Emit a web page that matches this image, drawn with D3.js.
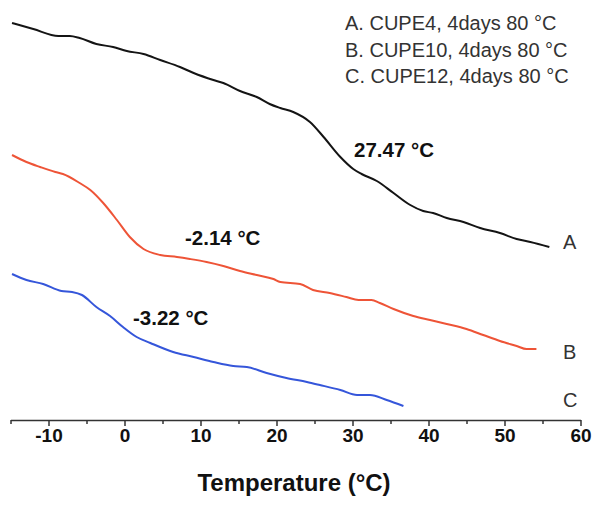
<!DOCTYPE html>
<html lang="en">
  <head>
    <meta charset="UTF-8" />
    <script src="https://d3js.org/d3.v7.min.js"></script>
    <title>DSC curves</title>
    <style>
      body {
        margin: 0;
        background: white;
      }
      text {
        font-family: "Liberation Sans", Arial, sans-serif;
      }
    </style>
  </head>
  <body>
    <script>
      /*------------------- data --------------------*/
      // [temperature (°C), heat flow (a.u.)]
      const curveA = [
        [-14.8, 3.97], [-12.0, 3.91], [-8.7, 3.84], [-7.2, 3.84], [-5.9, 3.82],
        [-3.7, 3.76], [-1.5, 3.73], [0.3, 3.69], [2.5, 3.66], [4.7, 3.6],
        [7.3, 3.53], [9.1, 3.47], [11.7, 3.4], [13.0, 3.37], [15.2, 3.29],
        [17.4, 3.23], [19.1, 3.16], [20.5, 3.12], [22.2, 3.08], [24.4, 2.98],
        [26.2, 2.83], [28.4, 2.63], [30.1, 2.51], [31.2, 2.46], [33.2, 2.39],
        [35.4, 2.27], [37.6, 2.15], [39.3, 2.09], [40.6, 2.07], [42.4, 2.02],
        [44.6, 1.98], [46.8, 1.92], [49.4, 1.87], [51.6, 1.81], [53.4, 1.78],
        [55.9, 1.73],
      ];
      const curveB = [
        [-14.8, 2.65], [-12.9, 2.58], [-11.1, 2.53], [-9.1, 2.48], [-8.1, 2.46],
        [-5.9, 2.37], [-4.5, 2.3], [-2.8, 2.17], [-1.0, 2.0], [0.7, 1.83],
        [2.5, 1.71], [4.7, 1.65], [6.9, 1.63], [8.6, 1.61], [10.8, 1.58],
        [13.0, 1.54], [15.2, 1.49], [17.4, 1.45], [19.6, 1.41], [20.5, 1.38],
        [23.1, 1.36], [24.8, 1.3], [27.0, 1.27], [29.2, 1.23], [30.8, 1.2],
        [32.5, 1.2], [33.6, 1.17], [35.4, 1.11], [38.0, 1.04], [40.2, 1.0],
        [42.4, 0.96], [45.0, 0.91], [47.2, 0.85], [49.4, 0.79], [51.6, 0.74],
        [52.9, 0.71], [54.2, 0.71],
      ];
      const curveC = [
        [-14.8, 1.46], [-12.9, 1.4], [-10.7, 1.36], [-8.3, 1.29], [-6.9, 1.28],
        [-5.6, 1.25], [-3.7, 1.13], [-1.9, 1.04], [-0.2, 0.93], [1.6, 0.83],
        [3.4, 0.77], [6.4, 0.68], [9.1, 0.63], [11.7, 0.58], [14.3, 0.54],
        [16.1, 0.53], [18.7, 0.47], [21.3, 0.42], [24.0, 0.38], [25.7, 0.35],
        [28.4, 0.3], [30.6, 0.25], [32.3, 0.25], [34.5, 0.2], [36.7, 0.14],
      ];
      const series = [
        { key: "A", data: curveA, color: "#141414" },
        { key: "B", data: curveB, color: "#ee5437" },
        { key: "C", data: curveC, color: "#3556da" },
      ];
      const legendLabels = [
        "A. CUPE4, 4days 80 °C",
        "B. CUPE10, 4days 80 °C",
        "C. CUPE12, 4days 80 °C",
      ];
      const tgLabels = ["27.47 °C", "-2.14 °C", "-3.22 °C"];
      const majorTicks = [-10, 0, 10, 20, 30, 40, 50, 60];
      const minorTicks = [-15, -5, 5, 15, 25, 35, 45, 55];

      /*------------------- svg --------------------*/
      const width = 602;
      const height = 505;
      const svg = d3
        .select("body")
        .append("svg")
        .attr("width", width)
        .attr("height", height);

      svg.append("rect").attr("width", width).attr("height", height).attr("fill", "white");

      const x = d3.scaleLinear().domain([-15, 60]).range([10.5, 580.5]);
      const y = d3.scaleLinear().domain([0, 4]).range([420, 20]);

      /*------------------- axis --------------------*/
      const minorAxis = svg
        .append("g")
        .attr("transform", "translate(0,420)")
        .call(d3.axisBottom(x).tickValues(minorTicks).tickSize(4).tickSizeOuter(0).tickFormat(""));
      minorAxis.select(".domain").remove();

      // plain hyphen for negatives, like the original
      const majorAxis = svg
        .append("g")
        .attr("transform", "translate(0,420)")
        .call(
          d3
            .axisBottom(x)
            .tickValues(majorTicks)
            .tickSize(6)
            .tickSizeOuter(0)
            .tickPadding(3)
            .tickFormat((d) => String(d))
        );

      svg.selectAll(".domain, .tick line").attr("stroke", "#333").attr("stroke-width", 1.5);
      majorAxis
        .selectAll("text")
        .attr("fill", "#111")
        .style("font-size", "19px")
        .style("font-weight", "bold");

      svg
        .append("text")
        .attr("x", 294)
        .attr("y", 491)
        .attr("text-anchor", "middle")
        .style("font-size", "24px")
        .style("font-weight", "bold")
        .attr("fill", "#111")
        .text("Temperature (°C)");

      /*------------------- curves --------------------*/
      const line = d3
        .line()
        .x((d) => x(d[0]))
        .y((d) => y(d[1]))
        .curve(d3.curveMonotoneX);

      svg
        .selectAll("path.curve")
        .data(series)
        .enter()
        .append("path")
        .attr("class", "curve")
        .attr("d", (d) => line(d.data))
        .attr("fill", "none")
        .attr("stroke", (d) => d.color)
        .attr("stroke-width", 2);

      // curve letters at the right
      const letterPos = [249, 359, 407];
      svg
        .selectAll("text.letter")
        .data(series)
        .enter()
        .append("text")
        .attr("class", "letter")
        .attr("x", 563)
        .attr("y", (d, i) => letterPos[i])
        .style("font-size", "20px")
        .attr("fill", "#333")
        .text((d) => d.key);

      // glass transition labels
      const tgPos = [
        [354, 157],
        [185, 245],
        [133, 325],
      ];
      svg
        .selectAll("text.tg")
        .data(tgLabels)
        .enter()
        .append("text")
        .attr("class", "tg")
        .attr("x", (d, i) => tgPos[i][0])
        .attr("y", (d, i) => tgPos[i][1])
        .style("font-size", "20.5px")
        .style("font-weight", "bold")
        .attr("fill", "#111")
        .text((d) => d);

      // legend
      svg
        .selectAll("text.legend")
        .data(legendLabels)
        .enter()
        .append("text")
        .attr("class", "legend")
        .attr("x", 345)
        .attr("y", (d, i) => 30 + i * 26.5)
        .style("font-size", "20px")
        .attr("fill", "#333")
        .text((d) => d);
    </script>
  </body>
</html>
